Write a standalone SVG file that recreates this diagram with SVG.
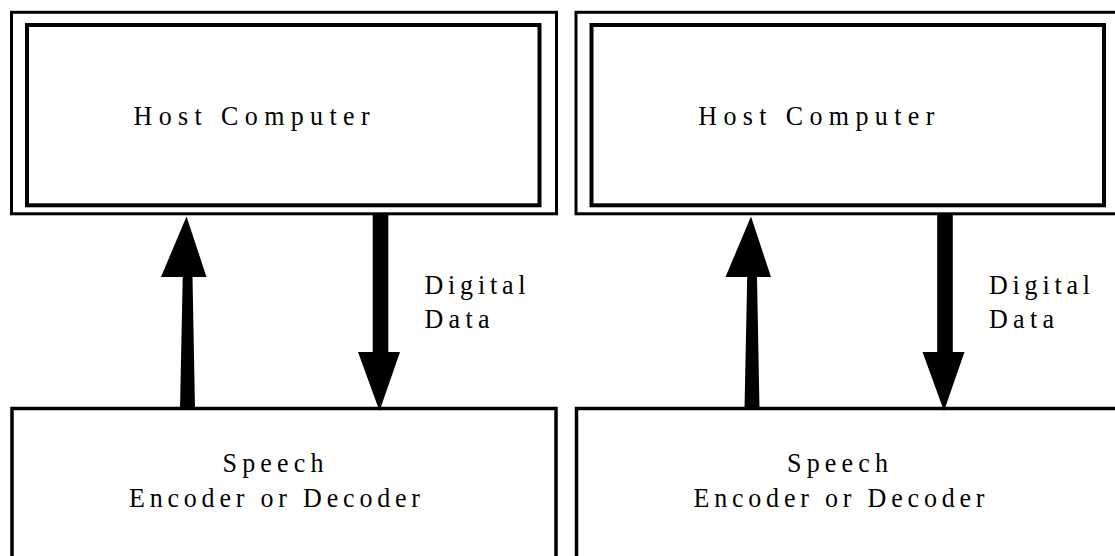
<svg xmlns="http://www.w3.org/2000/svg" width="1115" height="556" viewBox="0 0 1115 556">
  <style>
    .frame { fill: #fff; stroke: #000; }
    .outer { stroke-width: 3; }
    .inner { stroke-width: 4; }
    .box { stroke-width: 3.5; }
    .lbl { font-family: "Liberation Serif", "Times New Roman", serif; font-size: 26px; fill: #000; }
    .arrow { fill: #000; stroke: none; }
  </style>
  <rect width="1115" height="556" fill="#fff"/>

  <!-- left system -->
  <g id="host-left">
    <rect class="frame outer" x="11.5" y="12.3" width="545" height="201.5"/>
    <rect class="frame inner" x="27" y="25" width="512.5" height="180.3"/>
    <g transform="translate(133.6,124.5) scale(1,1.06)">
      <text class="lbl" x="0" y="0" textLength="236" lengthAdjust="spacing">Host Computer</text>
    </g>
  </g>
  <g id="codec-left">
    <rect class="frame box" x="12" y="408.5" width="544" height="200"/>
    <g transform="translate(222.5,471.5) scale(1,1.06)">
      <text class="lbl" x="0" y="0" textLength="101" lengthAdjust="spacing">Speech</text>
    </g>
    <g transform="translate(129,507) scale(1,1.06)">
      <text class="lbl" x="0" y="0" textLength="291" lengthAdjust="spacing">Encoder or Decoder</text>
    </g>
  </g>

  <!-- right system -->
  <g id="host-right">
    <rect class="frame outer" x="576" y="12.3" width="545" height="201.5"/>
    <rect class="frame inner" x="591.5" y="25" width="512.5" height="180.3"/>
    <g transform="translate(698.3,124.5) scale(1,1.06)">
      <text class="lbl" x="0" y="0" textLength="236" lengthAdjust="spacing">Host Computer</text>
    </g>
  </g>
  <g id="codec-right">
    <rect class="frame box" x="576.5" y="408.5" width="544" height="200"/>
    <g transform="translate(787,471.5) scale(1,1.06)">
      <text class="lbl" x="0" y="0" textLength="101" lengthAdjust="spacing">Speech</text>
    </g>
    <g transform="translate(693.5,507) scale(1,1.06)">
      <text class="lbl" x="0" y="0" textLength="291" lengthAdjust="spacing">Encoder or Decoder</text>
    </g>
  </g>

  <!-- connectors: codec to host (up) and host to codec (down, digital data) -->
  <g id="connectors">
    <g id="links-left">
      <polygon class="arrow" points="186.5,216.5 206.5,277 192.5,277 195,409 180,409 182.7,277 161,277"/>
      <polygon class="arrow" points="372.7,213 388.3,213 388.3,352 400,352 379.5,411 358,352 372.7,352"/>
      <g transform="translate(424.5,294) scale(1,1.06)">
        <text class="lbl" x="0" y="0" textLength="101" lengthAdjust="spacing">Digital</text>
      </g>
      <g transform="translate(424.5,327.5) scale(1,1.06)">
        <text class="lbl" x="0" y="0" textLength="65" lengthAdjust="spacing">Data</text>
      </g>
    </g>
    <g id="links-right" transform="translate(564.5,0)">
      <polygon class="arrow" points="186.5,216.5 206.5,277 192.5,277 195,409 180,409 182.7,277 161,277"/>
      <polygon class="arrow" points="372.7,213 388.3,213 388.3,352 400,352 379.5,411 358,352 372.7,352"/>
      <g transform="translate(424.5,294) scale(1,1.06)">
        <text class="lbl" x="0" y="0" textLength="101" lengthAdjust="spacing">Digital</text>
      </g>
      <g transform="translate(424.5,327.5) scale(1,1.06)">
        <text class="lbl" x="0" y="0" textLength="65" lengthAdjust="spacing">Data</text>
      </g>
    </g>
  </g>
</svg>
